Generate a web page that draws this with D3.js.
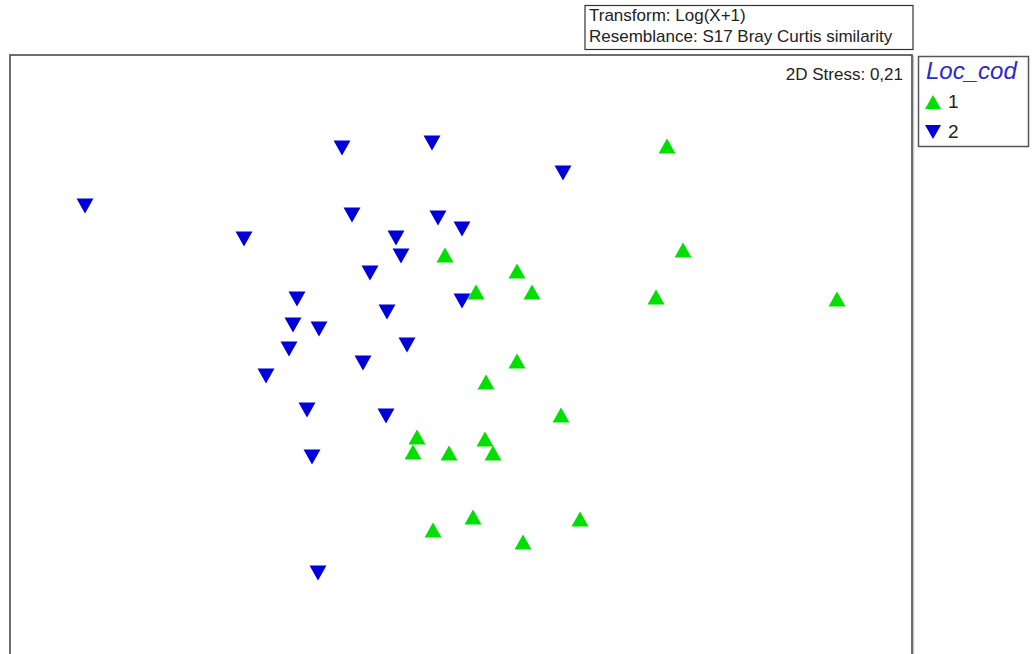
<!DOCTYPE html>
<html>
<head>
<meta charset="utf-8">
<script src="https://cdn.jsdelivr.net/npm/d3@7"></script>
<style>
  html, body { margin: 0; padding: 0; background: #fff; }
  svg { display: block; font-family: "Liberation Sans", Arial, sans-serif; }
</style>
</head>
<body>
<svg id="chart" width="1032" height="654"></svg>
<script>
// nMDS ordination coordinates (MDS1, MDS2) per location code
const loc1X = [2.06, 2.22, 1.95, 3.76, -0.16, 0.56, 0.15, 0.71, 0.56, 0.25,
               1.00, -0.44, -0.48, -0.12, 0.24, 0.32, -0.28, 0.12, 0.62, 1.19];
const loc1Y = [2.14, 1.10, 0.63, 0.61, 1.05, 0.89, 0.68, 0.68, -0.01, -0.22,
               -0.55, -0.77, -0.92, -0.93, -0.79, -0.93, -1.70, -1.57, -1.82, -1.59];
const loc2X = [-3.76, -1.19, -0.29, 1.02, -1.09, -0.23, 0.01, -2.17, -0.65, -0.60,
               -0.91, -1.64, -0.74, 0.01, -1.68, -1.42, -1.72, -0.54, -0.98, -1.95,
               -1.54, -0.75, -1.49, -1.43];
const loc2Y = [1.54, 2.12, 2.17, 1.87, 1.45, 1.42, 1.31, 1.21, 1.22, 1.04,
               0.87, 0.61, 0.48, 0.59, 0.35, 0.31, 0.11, 0.15, -0.03, -0.16,
               -0.50, -0.56, -0.97, -2.13];

const groups = ["1", "2"];
const groupColors = ["#00e000", "#0000d8"];
const legendTitle = "Loc_cod";
const stressLabel = "2D Stress: 0,21";
const infoLines = ["Transform: Log(X+1)", "Resemblance: S17 Bray Curtis similarity"];

const svg = d3.select("#chart");

// Plot frame (bottom edge runs off the page)
const plot = { left: 10, top: 55, right: 912, bottom: 665 };

const x = d3.scaleLinear().domain([-4.51, 4.51]).range([plot.left, plot.right]);
const y = d3.scaleLinear().domain([3.05, -3.05]).range([plot.top, plot.bottom]);

// Triangle marker centred on its bounding box; dir = 1 points up, -1 points down
function triangle(cx, cy, w, h, dir) {
  const p = d3.path();
  if (dir > 0) {
    p.moveTo(cx, cy - h / 2);
    p.lineTo(cx + w / 2, cy + h / 2);
    p.lineTo(cx - w / 2, cy + h / 2);
  } else {
    p.moveTo(cx - w / 2, cy - h / 2);
    p.lineTo(cx + w / 2, cy - h / 2);
    p.lineTo(cx, cy + h / 2);
  }
  p.closePath();
  return p.toString();
}

// frame with a soft shadow line
svg.append("rect")
  .attr("x", plot.left + 1.5).attr("y", plot.top + 1.5)
  .attr("width", plot.right - plot.left).attr("height", plot.bottom - plot.top + 20)
  .attr("fill", "none").attr("stroke", "#c8c8c8").attr("stroke-width", 1.5);
svg.append("rect")
  .attr("x", plot.left).attr("y", plot.top)
  .attr("width", plot.right - plot.left).attr("height", plot.bottom - plot.top + 20)
  .attr("fill", "#fff").attr("stroke", "#4a4a4a").attr("stroke-width", 1.6);

// info box above the plot
const info = svg.append("g");
info.append("rect")
  .attr("x", 585).attr("y", 5.5).attr("width", 328).attr("height", 44)
  .attr("fill", "#fff").attr("stroke", "#333").attr("stroke-width", 1.2);
info.selectAll("text").data(infoLines).join("text")
  .attr("x", 589).attr("y", (d, i) => 21 + i * 21)
  .attr("font-size", 17).attr("fill", "#222")
  .text(d => d);

// stress value
svg.append("text")
  .attr("x", 903).attr("y", 80)
  .attr("text-anchor", "end")
  .attr("font-size", 17).attr("fill", "#222")
  .text(stressLabel);

// points
const pts = [];
loc1X.forEach((v, i) => pts.push({ g: 0, x: v, y: loc1Y[i] }));
loc2X.forEach((v, i) => pts.push({ g: 1, x: v, y: loc2Y[i] }));

svg.append("g").selectAll("path").data(pts).join("path")
  .attr("d", d => triangle(x(d.x), y(d.y), 17, 15, d.g === 0 ? 1 : -1))
  .attr("fill", d => groupColors[d.g]);

// legend
const leg = svg.append("g");
leg.append("rect")
  .attr("x", 918.5).attr("y", 56.5).attr("width", 110).attr("height", 90)
  .attr("fill", "#fff").attr("stroke", "#555").attr("stroke-width", 1.5);
leg.append("text")
  .attr("x", 926).attr("y", 79)
  .attr("font-size", 24).attr("font-style", "italic").attr("fill", "#2a2acf")
  .text(legendTitle);
const items = leg.selectAll("g.item").data(groups).join("g").attr("class", "item");
items.append("path")
  .attr("d", (d, i) => triangle(933, 102 + i * 30, 16, 14, i === 0 ? 1 : -1))
  .attr("fill", (d, i) => groupColors[i]);
items.append("text")
  .attr("x", 948).attr("y", (d, i) => 108 + i * 30)
  .attr("font-size", 19).attr("fill", "#222")
  .text(d => d);
</script>
</body>
</html>
